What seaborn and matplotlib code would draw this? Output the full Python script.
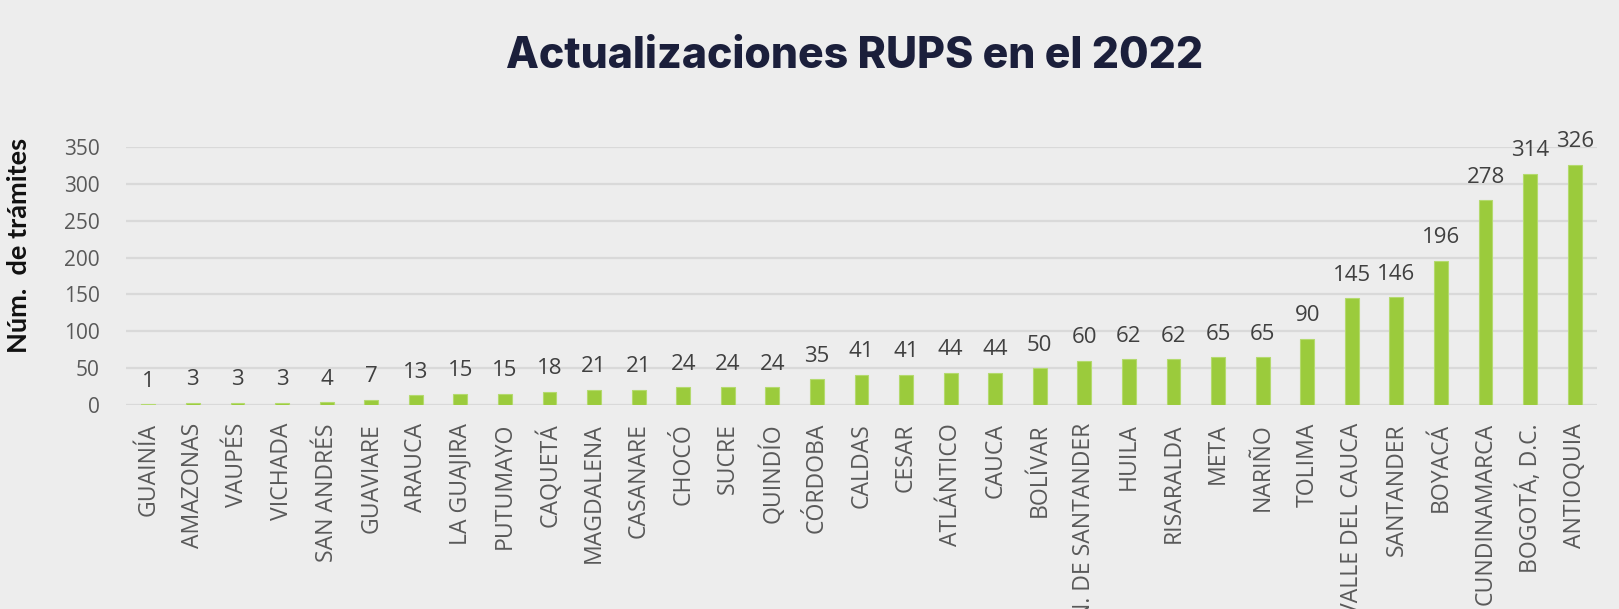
import matplotlib
matplotlib.use("Agg")
import matplotlib.pyplot as plt
import seaborn as sns
import pandas as pd

categories = ["GUAINÍA", "AMAZONAS", "VAUPÉS", "VICHADA", "SAN ANDRÉS", "GUAVIARE",
              "ARAUCA", "LA GUAJIRA", "PUTUMAYO", "CAQUETÁ", "MAGDALENA", "CASANARE",
              "CHOCÓ", "SUCRE", "QUINDÍO", "CÓRDOBA", "CALDAS", "CESAR", "ATLÁNTICO",
              "CAUCA", "BOLÍVAR", "N. DE SANTANDER", "HUILA", "RISARALDA", "META",
              "NARIÑO", "TOLIMA", "VALLE DEL CAUCA", "SANTANDER", "BOYACÁ",
              "CUNDINAMARCA", "BOGOTÁ, D.C.", "ANTIOQUIA"]
values = [1, 3, 3, 3, 4, 7, 13, 15, 15, 18, 21, 21, 24, 24, 24, 35, 41, 41, 44, 44,
          50, 60, 62, 62, 65, 65, 90, 145, 146, 196, 278, 314, 326]
yticks = [0, 50, 100, 150, 200, 250, 300, 350]
title = "Actualizaciones RUPS en el 2022"
ylabel = "Núm.  de trámites"

df = pd.DataFrame({"dep": categories, "n": values})

sns.set_theme(style="white")
plt.rcParams["font.family"] = ["Open Sans", "DejaVu Sans"]

BG = "#EDEDED"
fig = plt.figure(figsize=(16.19, 6.09), dpi=100, facecolor=BG)
ax = fig.add_axes([126/1619, 1-405/609, (1597-126)/1619, (405-147)/609])
ax.set_facecolor(BG)

sns.barplot(data=df, x="dep", y="n", color="#9BCB3C", width=0.31,
            edgecolor="#B4DA6E", linewidth=0.8, saturation=1, ax=ax)

ax.set_ylim(0, 350)
ax.set_xlim(-0.5, len(categories) - 0.5)
ax.set_yticks(yticks)
ax.set_yticklabels([str(t) for t in yticks])
ax.yaxis.grid(True, color="#D9D9D9", linewidth=1.6)
ax.xaxis.grid(False)
ax.set_axisbelow(True)
for s in ax.spines.values():
    s.set_visible(False)
ax.tick_params(axis="y", length=0, pad=19, labelsize=15, labelcolor="#595959")
ax.tick_params(axis="x", length=0, pad=13, labelsize=16.6, labelcolor="#595959")
plt.setp(ax.get_xticklabels(), rotation=90, ha="center", va="top")
ax.set_xlabel("")
ax.set_ylabel("")

labels = ax.bar_label(ax.containers[0], labels=[str(v) for v in values],
                      padding=9, fontsize=16, color="#404040")
for t in labels:
    t.set_clip_on(False)

fig.text(19/1619, 1-245/609, ylabel, rotation=90, ha="center", va="center",
         fontsize=19.5, fontweight="bold", color="#111111", family=["Lato", "DejaVu Sans"])
fig.text(855/1619, 1-57/609, title, ha="center", va="center", fontsize=30.8,
         fontweight="heavy", color="#1B1F3B", family=["Inter", "DejaVu Sans"])

fig.savefig("out.png", dpi=100, facecolor=BG)
